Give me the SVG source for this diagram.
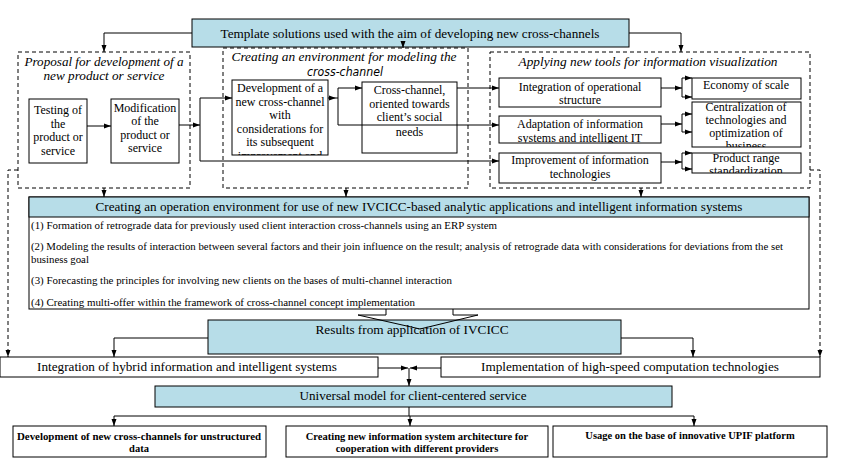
<svg xmlns="http://www.w3.org/2000/svg" width="846" height="471" viewBox="0 0 846 471" font-family="'Liberation Serif', 'DejaVu Serif', serif">
<style>
.bx{fill:#fff;stroke:#000;stroke-width:1}
.bl{fill:#b7dde8;stroke:#000;stroke-width:1}
.ds{fill:none;stroke:#000;stroke-width:1;stroke-dasharray:4,3}
.ln{fill:none;stroke:#000;stroke-width:1}
.ar{fill:none;stroke:#000;stroke-width:1;marker-end:url(#ah)}
.ad{fill:none;stroke:#000;stroke-width:1;stroke-dasharray:4,3;marker-end:url(#ah)}
.t12{font-family:'Liberation Serif','DejaVu Serif',serif;font-size:12px;text-anchor:middle}
.it{font-family:'Liberation Serif','DejaVu Serif',serif;font-size:13px;font-style:italic;text-anchor:middle}
.sm{font-family:'Liberation Serif','DejaVu Serif',serif;font-size:10.8px}
.bd{font-family:'Liberation Serif','DejaVu Serif',serif;font-size:10.5px;font-weight:bold;text-anchor:middle}
.md{font-family:'Liberation Serif','DejaVu Serif',serif;font-size:13px;text-anchor:middle}
</style>
<defs>
<marker id="ah" markerWidth="7" markerHeight="6" refX="7" refY="3" orient="auto" markerUnits="userSpaceOnUse">
<path d="M0,0.5 L7,3 L0,5.5 Z" fill="#000"/>
</marker>
<clipPath id="cDev"><rect x="232" y="80" width="96" height="75"/></clipPath>
<clipPath id="cAda"><rect x="499" y="116" width="162" height="27"/></clipPath>
<clipPath id="cCen"><rect x="692" y="102" width="109" height="45"/></clipPath>
<clipPath id="cPro"><rect x="692" y="153" width="109" height="20"/></clipPath>
</defs>

<g id="title">
<rect class="bl" x="192" y="19" width="437" height="28"/>
<text class="md" x="410" y="38" font-size="14" textLength="379" lengthAdjust="spacingAndGlyphs">Template solutions used with the aim of developing new cross-channels</text>
</g>

<g id="group-proposal">
<rect class="ds" x="18" y="52" width="172" height="136"/>
<text class="it" x="104" y="66" textLength="159" lengthAdjust="spacingAndGlyphs">Proposal for development of a</text>
<text class="it" x="104" y="80" textLength="121" lengthAdjust="spacingAndGlyphs">new product or service</text>
</g>
<g id="group-environment">
<rect class="ds" x="223" y="48" width="245" height="140"/>
<text class="it" x="344" y="61" textLength="225" lengthAdjust="spacingAndGlyphs">Creating an environment for modeling the</text>
<text x="345" y="76" font-family="'DejaVu Sans',sans-serif" font-size="12" font-style="italic" text-anchor="middle" textLength="76" lengthAdjust="spacingAndGlyphs">cross-channel</text>
</g>
<g id="group-visualization">
<rect class="ds" x="490" y="52" width="320" height="136"/>
<text class="it" x="648" y="66" textLength="259" lengthAdjust="spacingAndGlyphs">Applying new tools for information visualization</text>
</g>

<g id="testing">
<rect class="bx" x="29" y="99" width="58" height="64"/>
<text class="t12" x="58" y="114">Testing of</text>
<text class="t12" x="58" y="127.5">the</text>
<text class="t12" x="58" y="141">product or</text>
<text class="t12" x="58" y="154.5">service</text>
</g>
<g id="modification">
<rect class="bx" x="111" y="99" width="68" height="64"/>
<text class="t12" x="145" y="111.5">Modification</text>
<text class="t12" x="145" y="125">of the</text>
<text class="t12" x="145" y="138.5">product or</text>
<text class="t12" x="145" y="152">service</text>
</g>
<g id="development">
<rect class="bx" x="232" y="80" width="96" height="75"/>
<g clip-path="url(#cDev)">
<text class="t12" x="280" y="92">Development of a</text>
<text class="t12" x="280" y="105.5">new cross-channel</text>
<text class="t12" x="280" y="119">with</text>
<text class="t12" x="280" y="132.5">considerations for</text>
<text class="t12" x="280" y="146">its subsequent</text>
<text class="t12" x="280" y="159.5">improvement and</text>
</g>
</g>
<g id="crosschannel">
<rect class="bx" x="362" y="82" width="95" height="71"/>
<text class="t12" x="409.5" y="94">Cross-channel,</text>
<text class="t12" x="409.5" y="107.5">oriented towards</text>
<text class="t12" x="409.5" y="121">client’s social</text>
<text class="t12" x="409.5" y="136">needs</text>
</g>
<g id="integration-op">
<rect class="bx" x="499" y="78" width="162" height="29"/>
<text class="t12" x="580" y="90.5">Integration of operational</text>
<text class="t12" x="580" y="104">structure</text>
</g>
<g id="adaptation">
<rect class="bx" x="499" y="116" width="162" height="27"/>
<g clip-path="url(#cAda)">
<text class="t12" x="580" y="128">Adaptation of information</text>
<text class="t12" x="580" y="141.5">systems and intelligent  IT</text>
</g>
</g>
<g id="improvement">
<rect class="bx" x="499" y="153" width="162" height="30"/>
<text class="t12" x="580" y="164">Improvement of information</text>
<text class="t12" x="580" y="177.5">technologies</text>
</g>
<g id="economy">
<rect class="bx" x="692" y="78" width="109" height="21"/>
<text class="t12" x="746" y="89">Economy of scale</text>
</g>
<g id="centralization">
<rect class="bx" x="692" y="102" width="109" height="45"/>
<g clip-path="url(#cCen)">
<text class="t12" x="746" y="111" font-size="11.5">Centralization  of</text>
<text class="t12" x="746" y="124" font-size="11.5">technologies and</text>
<text class="t12" x="746" y="137" font-size="11.5">optimization  of</text>
<text class="t12" x="746" y="149.5" font-size="11">business</text>
</g>
</g>
<g id="product-range">
<rect class="bx" x="692" y="153" width="109" height="20"/>
<g clip-path="url(#cPro)">
<text class="t12" x="746" y="162" font-size="11">Product range</text>
<text class="t12" x="746" y="174.5" font-size="11">standardization</text>
</g>
</g>

<g id="operation-env">
<rect class="bx" x="29" y="197" width="780" height="112"/>
<rect class="bl" x="29" y="197" width="780" height="20"/>
<text class="md" x="419" y="211" textLength="647" lengthAdjust="spacingAndGlyphs">Creating an operation environment for use of new IVCICC-based analytic applications and intelligent information systems</text>
<text class="sm" x="31" y="229" textLength="466" lengthAdjust="spacingAndGlyphs">(1) Formation of retrograde data for previously used client interaction cross-channels using an ERP system</text>
<text class="sm" x="31" y="250" textLength="752" lengthAdjust="spacingAndGlyphs">(2) Modeling the results of interaction between several factors and their join influence on the result; analysis of retrograde data with considerations for deviations from the set</text>
<text class="sm" x="31" y="263">business goal</text>
<text class="sm" x="31" y="284" textLength="421" lengthAdjust="spacingAndGlyphs">(3) Forecasting the principles for involving new clients on the bases of multi-channel interaction</text>
<text class="sm" x="31" y="306" textLength="384" lengthAdjust="spacingAndGlyphs">(4) Creating multi-offer within the framework of cross-channel concept implementation</text>
</g>

<g id="results">
<rect class="bl" x="208" y="320" width="413" height="34"/>
<text class="md" x="412" y="334" textLength="193" lengthAdjust="spacingAndGlyphs">Results from application of IVCICC</text>
</g>
<g id="hybrid">
<rect class="bx" x="0" y="357" width="378" height="20"/>
<text class="md" x="187" y="371" textLength="300" lengthAdjust="spacingAndGlyphs">Integration of hybrid information and intelligent systems</text>
</g>
<g id="highspeed">
<rect class="bx" x="441" y="357" width="379" height="20"/>
<text class="md" x="630" y="371" textLength="298" lengthAdjust="spacingAndGlyphs">Implementation of high-speed computation technologies</text>
</g>
<g id="universal">
<rect class="bl" x="155" y="386" width="517" height="21"/>
<text class="md" x="413" y="400" textLength="227" lengthAdjust="spacingAndGlyphs">Universal model for client-centered service</text>
</g>
<g id="unstructured">
<rect class="bx" x="13" y="426" width="253" height="31"/>
<text class="bd" x="139" y="440" textLength="244" lengthAdjust="spacingAndGlyphs">Development of new cross-channels for unstructured</text>
<text class="bd" x="139" y="452">data</text>
</g>
<g id="architecture">
<rect class="bx" x="286" y="426" width="262" height="31"/>
<text class="bd" x="417" y="440">Creating new information system architecture for</text>
<text class="bd" x="417" y="452">cooperation with different providers</text>
</g>
<g id="upif">
<rect class="bx" x="553" y="426" width="274" height="31"/>
<text class="bd" x="690" y="439">Usage on the base of innovative UPIF platform</text>
</g>

<g id="connectors">
<path class="ar" d="M192,33 H104 V52"/>
<path class="ar" d="M629,33 H681 V52"/>
<path class="ar" d="M403,41 V48"/>
<path class="ar" d="M87,126 H111"/>
<path class="ar" d="M179,125 H200"/>
<path class="ln" d="M200,98 V161"/>
<path class="ar" d="M200,98 H232"/>
<path class="ar" d="M200,161 H499"/>
<path class="ar" d="M328,98 H336"/>
<path class="ln" d="M336,98 H338 M338,88 V125"/>
<path class="ar" d="M338,88 H362"/>
<path class="ar" d="M338,125 H499"/>
<path class="ar" d="M457,88 H499"/>
<path class="ar" d="M661,88 H682"/>
<path class="ln" d="M682,78 V97"/>
<path class="ar" d="M682,78 H692"/>
<path class="ar" d="M682,97 H692"/>
<path class="ar" d="M661,124 H682"/>
<path class="ln" d="M682,114 V132"/>
<path class="ar" d="M682,114 H692"/>
<path class="ar" d="M682,132 H692"/>
<path class="ar" d="M661,162 H682"/>
<path class="ln" d="M682,153 V169"/>
<path class="ar" d="M682,153 H692"/>
<path class="ar" d="M682,169 H692"/>
<path class="ad" d="M18,170 H8 V357"/>
<path class="ad" d="M810,170 H820 V357"/>
<path class="ar" d="M104,188 V197"/>
<path class="ar" d="M346,188 V197"/>
<path class="ar" d="M641,188 V197"/>
<path class="ln" d="M386,309 V315 H358 L420,329 L478,315 H453 V309"/>
<path class="ar" d="M208,338 H114 V357"/>
<path class="ar" d="M621,338 H693 V357"/>
<path class="ar" d="M378,368 H408"/>
<path class="ar" d="M441,368 H410"/>
<path class="ar" d="M409,368 V386"/>
<path class="ln" d="M409,407 V416 M114,416 H694"/>
<path class="ar" d="M114,416 V426"/>
<path class="ar" d="M410,416 V426"/>
<path class="ar" d="M694,416 V426"/>
</g>
</svg>
